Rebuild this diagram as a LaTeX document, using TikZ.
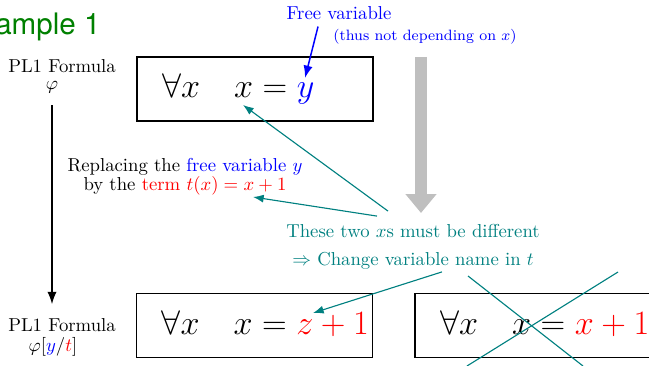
\RequirePackage{fix-cm}
\documentclass[tikz,border=0pt]{standalone}
\usepackage{amsmath,amssymb}
\usepackage{fontspec}
\newfontfamily\titlefont{TeX Gyre Heros}
\usetikzlibrary{arrows.meta,calc}
\definecolor{titlegreen}{HTML}{008000}
\definecolor{varteal}{HTML}{008080}
\definecolor{freeblue}{HTML}{0000FF}
\definecolor{termred}{HTML}{FF0000}
\definecolor{bigarrow}{HTML}{BFBFBF}
\tikzset{>=Latex,formbox/.style={draw,line width=.8pt,text width=126pt,inner xsep=0pt,minimum height=34.4pt,align=left,font=\fontsize{18.25}{22}\selectfont,text height=12.7pt,text depth=3.55pt,execute at begin node={\hspace*{13.35pt}}},lbl/.style={inner sep=0pt},tarr/.style={->,semithick,varteal},strike/.style={semithick,varteal},bigarr/.style={line width=5.9pt,bigarrow,-{Triangle[length=10.1pt,width=16pt]}}}

\begin{document}
\begin{tikzpicture}[x=.534pt,y=-.534pt]
\useasboundingbox (0,0) rectangle (649,366);
\node[lbl,anchor=base east,font=\titlefont\fontsize{15.8}{18}\selectfont,text=titlegreen] (title) at (101,35) {Example 1};
% formulas
\node[formbox] (form1) at (255,89) {$\forall x\quad x = {\color{freeblue}y}$};
\node[formbox] (form2) at (254.5,325.5) {$\forall x\quad x = {\color{termred}z+1}$};
\node[formbox] (form3) at (533,325.5) {$\forall x\quad x = {\color{termred}x+1}$};
\node[lbl,anchor=base] (name1) at (62,73) {PL1 Formula};
\node[lbl,anchor=base] (sym1) at (52,90) {$\varphi$};
\node[lbl,anchor=base] (name2) at (62,332) {PL1 Formula};
\node[lbl,anchor=base] (sym2) at (53,352) {$\varphi[{\color{freeblue}y}/{\color{termred}t}]$};
\draw[->,thick,shorten <=6.1pt,shorten >=7.7pt] (sym1.south) -- (sym1.south |- name2.north);
\node[lbl,align=center] (repl) at (185,176.5) {Replacing the \textcolor{freeblue}{free variable $y$}\\[-1.85pt]by the \textcolor{termred}{term $t(x)=x+1$}};
% free variable note
\node[lbl,anchor=base,text=freeblue] (free) at (339,20) {Free variable};
\node[lbl,anchor=base,text=freeblue,font=\footnotesize] (thus) at (425,41) {(thus not depending on $x$)};
\coordinate (yvar) at (305,78);
\draw[->,freeblue,thick] ([xshift=-11.2pt,yshift=-3.2pt]free.south) -- (yvar);
% big arrow
\coordinate (gtop) at (421,57);
\coordinate (gtip) at (421,213);
\draw[bigarr] (gtop) -- (gtip);
% clash of the two x
\node[lbl,align=center,text=varteal] (clash) at (413,246.5) {These two $x$s must be different\\[2.95pt]$\Rightarrow$ Change variable name in $t$};
\coordinate (xbound) at (243,105);
\coordinate (xterm) at (253,197);
\coordinate (zvar) at (313,313);
\draw[tarr] ($(clash.north)+(-25,-12.5)$) -- (xbound);
\draw[tarr] ($(clash.north)+(-36,-7.5)$) -- (xterm);
\draw[tarr] ($(clash.south)+(29,2.5)$) -- (zvar);
\draw[strike] (468,276) -- (583,366);
\draw[strike] (618,272) -- (467,366);
\end{tikzpicture}
\end{document}
